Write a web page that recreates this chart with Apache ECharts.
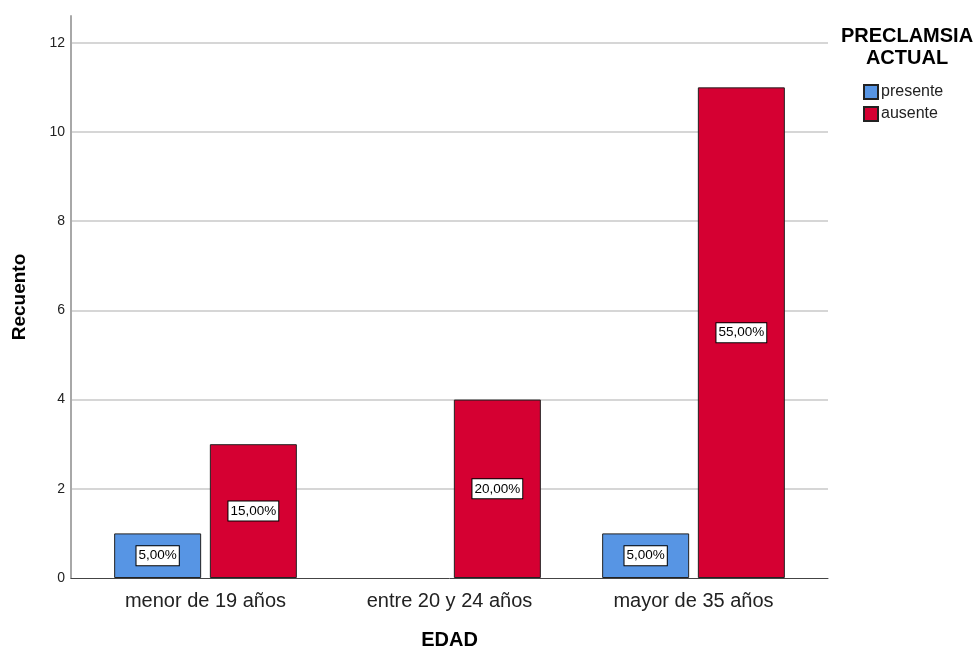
<!DOCTYPE html>
<html><head><meta charset="utf-8">
<script src="https://cdn.jsdelivr.net/npm/echarts@6/dist/echarts.min.js"></script>
<style>html,body{margin:0;padding:0;background:#fff}#c{width:979px;height:651px}</style>
</head><body><div id="c"></div>
<script>
var categories = ['menor de 19 años', 'entre 20 y 24 años', 'mayor de 35 años'];
var presente = [1, 0, 1];
var ausente = [3, 4, 11];
var yTicks = [0, 2, 4, 6, 8, 10, 12];
var seriesNames = ['presente', 'ausente'];

var total = presente.concat(ausente).reduce(function(a,b){return a+b;},0);
function pct(v){ return (v/total*100).toFixed(2).replace('.', ',') + '%'; }
var FONT = '"Liberation Sans", Arial, sans-serif';
var labelStyle = {
  show: true, position: 'inside', color: '#000', fontSize: 13.5, fontFamily: FONT,
  backgroundColor: '#fff', borderColor: '#000', borderWidth: 1, padding: [3, 2, 2, 2],
  formatter: function(p){ return pct(p.value); }
};
function mk(arr){
  return arr.map(function(v){
    return v === 0 ? {value: 0, label: {show: false}, itemStyle: {borderWidth: 0, opacity: 0}} : v;
  });
}
var chart = echarts.init(document.getElementById('c'), null, {renderer: 'canvas'});
chart.setOption({
  backgroundColor: '#fff',
  animation: false,
  grid: [
    {left: 71, right: 151, top: 16, bottom: 73, containLabel: false, outerBoundsMode: 'none'},
    {left: 83.5, right: 163.5, top: 16, bottom: 73, containLabel: false, outerBoundsMode: 'none'}
  ],
  xAxis: [
    {gridIndex: 0, type: 'value', min: 0, max: 1, axisLabel: {show: false}, axisTick: {show: false},
     splitLine: {show: false}, axisLine: {show: true, lineStyle: {color: '#444', width: 1}}},
    {gridIndex: 1, type: 'category', data: categories, axisLine: {show: false}, axisTick: {show: false},
     axisLabel: {fontSize: 20, color: '#222', fontFamily: FONT, margin: 13},
     name: 'EDAD', nameLocation: 'middle', nameGap: 52,
     nameTextStyle: {fontSize: 20, fontWeight: 'bold', color: '#000', fontFamily: FONT}}
  ],
  yAxis: [
    {gridIndex: 0, type: 'value', min: 0, max: 12.6, interval: 2,
     axisLine: {show: true, lineStyle: {color: '#a8a8a8', width: 2}}, axisTick: {show: false},
     axisLabel: {showMaxLabel: false, fontSize: 14, color: '#222', fontFamily: FONT, margin: 6,
       formatter: function(v){ return yTicks.indexOf(v) >= 0 ? String(v) : ''; }},
     splitLine: {show: true, showMaxLine: false, showMinLine: false, lineStyle: {color: '#c8c8c8', width: 1.5}},
     name: 'Recuento', nameLocation: 'middle', nameGap: 42, nameRotate: 90,
     nameTextStyle: {fontSize: 19, fontWeight: 'bold', color: '#000', fontFamily: FONT}},
    {gridIndex: 1, type: 'value', min: 0, max: 12.6, interval: 2, show: false}
  ],
  legend: {
    orient: 'vertical', left: 858, top: 79, itemWidth: 14, itemHeight: 14, itemGap: 6,
    icon: 'rect', data: seriesNames,
    textStyle: {fontSize: 16, color: '#222', fontFamily: FONT, padding: [0, 0, 0, -2]}
  },
  graphic: [{
    type: 'text', left: 837, top: 25,
    style: {text: 'PRECLAMSIA\nACTUAL', fill: '#000', font: 'bold 20px ' + FONT, textAlign: 'center', lineHeight: 22, width: 140}
  }],
  series: [
    {name: seriesNames[0], type: 'bar', xAxisIndex: 1, yAxisIndex: 1, data: mk(presente),
     barWidth: 87, barGap: '10%',
     itemStyle: {color: '#5795e4', borderColor: '#222', borderWidth: 1}, label: labelStyle},
    {name: seriesNames[1], type: 'bar', xAxisIndex: 1, yAxisIndex: 1, data: mk(ausente),
     barWidth: 87, barGap: '10%',
     itemStyle: {color: '#d50032', borderColor: '#222', borderWidth: 1}, label: labelStyle}
  ]
});
</script></body></html>
